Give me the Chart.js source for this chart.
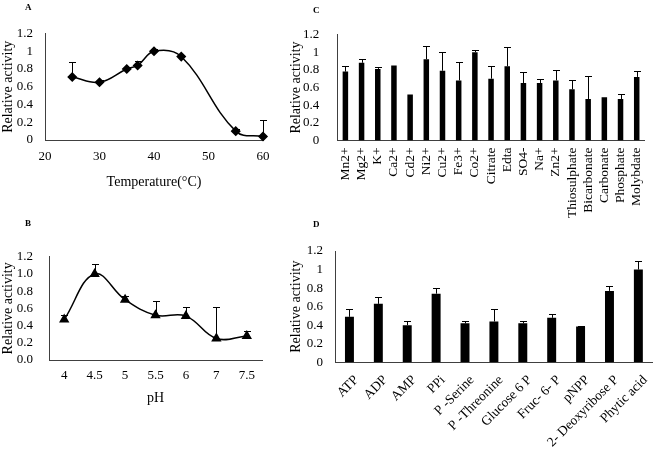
<!DOCTYPE html>
<html>
<head>
<meta charset="utf-8">
<script src="https://cdn.jsdelivr.net/npm/chart.js@4.4.1/dist/chart.umd.min.js"></script>
<style>
  body { margin: 0; background: #fff; }
  #wrap { position: relative; width: 660px; height: 449px; overflow: hidden; }
  canvas { position: absolute; }
  .tag { position: absolute; font: bold 9px 'Liberation Serif', serif; line-height: 10px; color: #000; z-index: 2; }
</style>
</head>
<body>
<div id="wrap">
  <canvas id="chartA" width="290" height="225" style="left:0;top:0"></canvas>
  <canvas id="chartB" width="290" height="224" style="left:0;top:225px"></canvas>
  <canvas id="chartC" width="375" height="225" style="left:285px;top:0"></canvas>
  <canvas id="chartD" width="375" height="224" style="left:285px;top:225px"></canvas>
  <div class="tag" style="left:25px;top:2px">A</div>
  <div class="tag" style="left:25px;top:218px">B</div>
  <div class="tag" style="left:313px;top:5px">C</div>
  <div class="tag" style="left:313px;top:219px">D</div>
</div>
<script>
// A - temperature
const tempC = [25, 30, 35, 37, 40, 45, 55, 60];
const tempActivity = [0.71, 0.65, 0.80, 0.84, 1.00, 0.94, 0.10, 0.04];
const tempError = [0.17, 0.03, 0.02, 0.05, 0.02, 0.02, 0.02, 0.18];

// B - pH
const phLabels = ['4', '4.5', '5', '5.5', '6', '7', '7.5'];
const phActivity = [0.47, 1.00, 0.70, 0.52, 0.51, 0.25, 0.28];
const phError = [0.05, 0.11, 0.04, 0.17, 0.11, 0.36, 0.06];

// C - ions and chelators
const ionLabels = ['Mn2+', 'Mg2+', 'K+', 'Ca2+', 'Cd2+', 'Ni2+', 'Cu2+', 'Fe3+', 'Co2+', 'Citrate', 'Edta', 'SO4-', 'Na+', 'Zn2+', 'Thiosulphate', 'Bicarbonate', 'Carbonate', 'Phosphate', 'Molybdate'];
const ionActivity = [0.78, 0.88, 0.81, 0.85, 0.52, 0.92, 0.79, 0.68, 1.00, 0.70, 0.84, 0.65, 0.65, 0.68, 0.58, 0.47, 0.49, 0.47, 0.72];
const ionError = [0.06, 0.04, 0.02, 0, 0, 0.15, 0.21, 0.21, 0.03, 0.14, 0.22, 0.12, 0.05, 0.12, 0.11, 0.26, 0, 0.06, 0.07];

// D - substrates
const substrateLabels = ['ATP', 'ADP', 'AMP', 'PPi', 'P -Serine', 'P -Threonine', 'Glucose 6 P', 'Fruc- 6- P', 'pNPP', '2- Deoxyribose P', 'Phytic acid'];
const substrateActivity = [0.49, 0.63, 0.40, 0.74, 0.42, 0.44, 0.42, 0.48, 0.385, 0.77, 1.00];
const substrateError = [0.08, 0.07, 0.05, 0.06, 0.02, 0.13, 0.03, 0.04, 0.01, 0.05, 0.09];

const serif = "'Liberation Serif', 'Times New Roman', serif";
const tickFont = { family: serif, size: 13 };
const titleFont = { family: serif, size: 14 };
const ink = '#000';
const axisColor = '#404040';

// upward error bars with a cap, from the dataset value to value + error
const errorBars = {
  id: 'errorBars',
  afterDatasetsDraw(chart, args, opts) {
    const errors = opts.errors;
    if (!errors) return;
    const ctx = chart.ctx;
    const yScale = chart.scales.y;
    const data = chart.data.datasets[0].data;
    ctx.save();
    ctx.strokeStyle = '#000';
    ctx.lineWidth = 1;
    chart.getDatasetMeta(0).data.forEach(function(el, i) {
      if (!errors[i]) return;
      const v = typeof data[i] === 'object' ? data[i].y : data[i];
      const x = Math.round(el.x) + 0.5;
      const y0 = yScale.getPixelForValue(v);
      const y1 = Math.round(yScale.getPixelForValue(v + errors[i])) + 0.5;
      ctx.beginPath();
      ctx.moveTo(x, y0);
      ctx.lineTo(x, y1);
      ctx.moveTo(x - 3.5, y1);
      ctx.lineTo(x + 3.5, y1);
      ctx.stroke();
    });
    ctx.restore();
  }
};

function yAxis(width, pad, fmt) {
  return {
    min: 0,
    max: 1.2,
    ticks: { stepSize: 0.2, autoSkip: false, padding: pad, color: ink, font: tickFont, callback: fmt },
    grid: { display: false, drawTicks: false },
    border: { display: true, color: axisColor, width: 1 },
    title: { display: true, text: 'Relative activity', color: ink, font: titleFont, padding: 0 },
    afterFit: function(scale) { scale.width = width; }
  };
}

const plainTick = function(v) { return String(+v.toFixed(1)); };
const fixedTick = function(v) { return v.toFixed(1); };

new Chart(document.getElementById('chartA'), {
  type: 'line',
  data: {
    datasets: [{
      data: tempC.map(function(t, i) { return { x: t, y: tempActivity[i] }; }),
      borderColor: '#000',
      borderWidth: 1.5,
      tension: 0.4,
      pointStyle: 'rectRot',
      pointRadius: 4,
      pointBackgroundColor: '#000',
      pointBorderColor: '#000',
      clip: false
    }]
  },
  options: {
    responsive: false,
    animation: false,
    layout: { padding: { left: 0, right: 27, top: 33.5, bottom: 0 } },
    plugins: { legend: { display: false }, tooltip: { enabled: false }, errorBars: { errors: tempError } },
    scales: {
      x: {
        type: 'linear',
        min: 20,
        max: 60,
        ticks: { stepSize: 10, padding: 9, color: ink, font: tickFont },
        grid: { display: false, drawTicks: false },
        border: { display: true, color: axisColor, width: 1 },
        title: { display: true, text: 'Temperature(°C)', color: ink, font: titleFont, padding: { top: 0, bottom: 34 } },
        afterFit: function(scale) { scale.height = 85; }
      },
      y: yAxis(45, 12, plainTick)
    }
  },
  plugins: [errorBars]
});

new Chart(document.getElementById('chartB'), {
  type: 'line',
  data: {
    labels: phLabels,
    datasets: [{
      data: phActivity,
      borderColor: '#000',
      borderWidth: 1.5,
      tension: 0.4,
      pointStyle: 'triangle',
      pointRadius: 4.5,
      pointBackgroundColor: '#000',
      pointBorderColor: '#000',
      clip: false
    }]
  },
  options: {
    responsive: false,
    animation: false,
    layout: { padding: { left: 0, right: 28, top: 31.7, bottom: 0 } },
    plugins: { legend: { display: false }, tooltip: { enabled: false }, errorBars: { errors: phError } },
    scales: {
      x: {
        offset: true,
        ticks: { padding: 8, color: ink, font: tickFont },
        grid: { display: false, drawTicks: false },
        border: { display: true, color: axisColor, width: 1 },
        title: { display: true, text: 'pH', color: ink, font: titleFont, padding: { top: 0, bottom: 42 } },
        afterFit: function(scale) { scale.height = 89; }
      },
      y: yAxis(49, 16, fixedTick)
    }
  },
  plugins: [errorBars]
});

new Chart(document.getElementById('chartC'), {
  type: 'bar',
  data: {
    labels: ionLabels,
    datasets: [{
      data: ionActivity,
      backgroundColor: '#000',
      barPercentage: 0.34,
      categoryPercentage: 1
    }]
  },
  options: {
    responsive: false,
    animation: false,
    layout: { padding: { left: 3, right: 3.3, top: 34.5, bottom: 0 } },
    plugins: { legend: { display: false }, tooltip: { enabled: false }, errorBars: { errors: ionError } },
    scales: {
      x: {
        offset: true,
        ticks: { padding: 7, color: ink, font: { family: serif, size: 13.5 }, minRotation: 90, maxRotation: 90, autoSkip: false },
        grid: { display: false, drawTicks: false },
        border: { display: true, color: axisColor, width: 1 },
        afterFit: function(scale) { scale.height = 84.5; }
      },
      y: yAxis(49.3, 18, plainTick)
    }
  },
  plugins: [errorBars]
});

new Chart(document.getElementById('chartD'), {
  type: 'bar',
  data: {
    labels: substrateLabels,
    datasets: [{
      data: substrateActivity,
      backgroundColor: '#000',
      barPercentage: 0.31,
      categoryPercentage: 1
    }]
  },
  options: {
    responsive: false,
    animation: false,
    layout: { padding: { left: 3, right: 4, top: 26, bottom: 0 } },
    plugins: { legend: { display: false }, tooltip: { enabled: false }, errorBars: { errors: substrateError } },
    scales: {
      x: {
        offset: true,
        ticks: { padding: 10, labelOffset: 7, color: ink, font: { family: serif, size: 13.5 }, minRotation: 45, maxRotation: 45, autoSkip: false },
        grid: { display: false, drawTicks: false },
        border: { display: true, color: axisColor, width: 1 },
        afterFit: function(scale) { scale.height = 86.7; }
      },
      y: yAxis(47, 12, plainTick)
    }
  },
  plugins: [errorBars]
});
</script>
</body>
</html>
